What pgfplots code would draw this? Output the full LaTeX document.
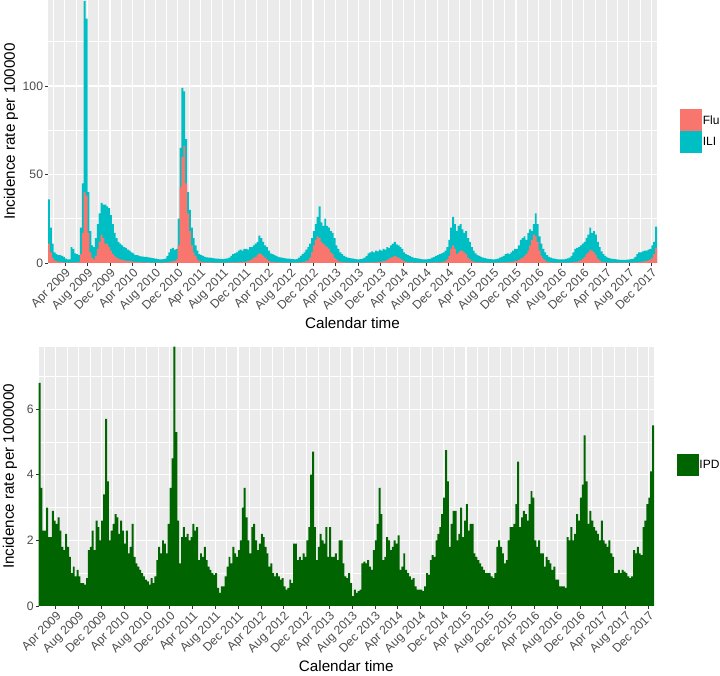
\documentclass[border=0pt]{standalone}
\usepackage{pgfplots}
\usepackage{pgfplotstable}
\usepackage{fontspec}
\setmainfont{Liberation Sans}
\pgfplotsset{compat=1.18}
\definecolor{flured}{HTML}{F8766D}
\definecolor{ilicyan}{HTML}{00BFC4}
\definecolor{ipdgreen}{HTML}{006400}
\definecolor{ggbg}{HTML}{EBEBEB}
\definecolor{ggtick}{HTML}{333333}
\definecolor{gglab}{HTML}{4D4D4D}

% three values per month (Jan 2009 = month 0); ili = total ILI height, flu = Flu height, ipd = IPD rate
\pgfplotstableread{
ili flu ipd
36 11 6.8
20 6 3.6
11 3 2.3
6 1.5 2.3
5 1 3.0
4.5 0.8 2.1
4.5 0.6 2.1
4 0.5 2.9
3.5 0.4 2.6
2.5 0.3 2.5
2 0.2 2.7
2 0.2 2.3
9 0.3 1.8
8 0.3 1.7
5.5 0.3 2.2
5 0.5 1.8
4.5 0.5 1.5
20 5 1.0
45 17 1.2
148 40 0.9
138 38 1.1
40 17 0.9
18 6 0.7
10 3 0.7
9 2 0.65
14 4 0.85
22 8 1.7
28 12 1.8
34 16 2.3
33 14 1.7
33 11 2.6
32 11 2.4
31 9 2.0
27 7 2.6
22 5 3.4
17 4 5.7
14 3 3.8
12 2.5 2.0
11 2 2.3
10 1.8 2.5
9 1.5 2.8
8.5 1.3 2.7
7.5 1.1 2.2
7 1 2.6
6 0.9 2.3
5.5 0.7 1.9
4.5 0.6 2.3
4.5 0.5 1.6
4 0.5 1.8
3.8 0.4 2.5
3.6 0.4 1.5
3.5 0.3 1.3
3.4 0.3 1.2
3.2 0.3 1.1
3 0.2 1.0
2.8 0.2 0.9
2.6 0.2 0.8
2.4 0.2 0.75
2.2 0.2 0.65
2 0.2 0.85
2 0.2 0.7
2.2 0.2 0.9
2.5 0.3 1.4
4 0.4 1.8
6 0.6 1.6
8 0.8 2.0
8.5 1 1.9
7.5 1.2 1.6
8 2 2.5
25 10 3.6
65 43 4.5
99 60 7.9
97 66 5.3
70 45 2.6
40 28 1.3
30 18 2.1
20 10 2.4
14 6 2.1
10 4 2.2
7 2 2.0
5 1.2 2.1
4.5 0.8 2.5
4 0.5 2.3
3.5 0.4 2.4
3.2 0.3 1.4
3 0.3 1.6
3 0.3 1.5
2.8 0.2 1.8
2.6 0.2 1.4
2.5 0.2 1.2
2.4 0.2 1.1
2.3 0.2 1.0
2.2 0.2 0.95
2.2 0.2 1.0
2.4 0.2 0.55
2.6 0.2 0.4
3 0.3 0.6
4 0.3 0.6
5 0.4 0.9
5.5 0.4 1.2
6 0.4 1.5
7 0.5 1.3
7.5 0.5 1.8
7 0.6 1.6
8 0.7 1.5
8 0.8 1.7
7.5 1 2.0
9 1.5 3.0
9 2 3.6
10 3 2.7
11 3.5 2.0
12 4.5 1.6
15.5 5.5 2.4
14 5 2.5
12 4 2.0
10 3 1.7
9 2 1.9
7 1.2 2.2
5.5 0.8 2.1
5 0.6 1.8
4.5 0.5 1.6
4 0.4 1.2
3.5 0.3 1.3
3.2 0.3 1.0
3 0.2 0.9
2.8 0.2 1.0
2.6 0.2 0.9
2.5 0.2 0.8
2.4 0.2 0.85
2.3 0.2 0.6
2.2 0.2 0.5
2 0.2 0.55
2.2 0.2 0.8
3 0.3 0.7
4 0.4 1.9
5 0.5 1.9
6 0.7 1.4
7.5 1 1.5
9 1.5 1.4
11 3 1.6
14 6 1.5
18 10 2.0
22 13 2.4
26 15 4.0
32 14 4.7
23 12 2.4
21 11 1.4
25 10 1.8
21 9 2.2
20 8 2.0
18 6 1.9
17 5 2.4
14 3 1.5
10 2 2.4
8 1.2 1.5
6 0.8 1.5
5 0.5 1.6
4 0.4 1.4
3.5 0.3 2.0
3 0.3 2.0
2.8 0.2 1.3
2.6 0.2 0.9
2.4 0.2 0.85
2.2 0.2 1.0
2 0.2 0.7
2 0.2 0.3
2.2 0.2 0.5
2.5 0.2 0.4
3 0.2 0.45
4 0.3 0.5
5.5 0.3 1.3
6 0.3 1.35
6.5 0.4 1.3
6 0.4 1.4
7 0.5 1.2
6.5 0.5 1.1
7.5 0.6 1.7
7 0.8 2.0
8 1 2.5
7.5 1.2 3.6
9 1.8 2.8
8.5 2.5 1.4
10 3 1.5
11 3.5 2.1
12 4 2.0
10.5 3.5 1.7
10 3 1.8
9 2.5 2.0
8 1.8 1.9
6 1 2.15
5 0.6 1.1
4.5 0.4 1.2
4 0.3 1.6
3.5 0.3 1.1
3 0.2 1.0
2.8 0.2 0.9
2.6 0.2 0.8
2.4 0.2 0.85
2.2 0.2 0.6
2.1 0.2 0.5
2 0.2 0.5
2 0.2 0.5
2.2 0.2 0.45
2.5 0.2 0.6
3 0.2 1.0
3.5 0.3 0.95
4 0.3 1.4
4.5 0.3 1.55
5 0.4 1.5
5.5 0.5 2.0
6 0.8 2.2
7 1.2 2.4
9 2 2.8
13 4 3.3
20 8 4.75
26 10 3.8
22 8 1.8
18 5 2.5
21 6 2.9
22 7 2.9
19 7 2.0
17 6 2.2
18 5 3.0
14 3 2.1
12 2 2.6
9 1.2 3.1
7 0.8 2.3
5.5 0.5 2.5
4.5 0.4 2.5
4 0.3 1.6
3.5 0.3 1.5
3 0.2 1.4
2.8 0.2 1.3
2.5 0.2 1.2
2.3 0.2 1.1
2.2 0.2 1.0
2 0.2 1.0
2 0.2 1.0
2.2 0.2 0.9
2.5 0.2 0.85
3 0.3 1.0
3.5 0.3 1.8
4 0.4 2.0
5 0.4 1.8
5.5 0.5 1.6
5 0.5 1.3
6 0.6 1.4
7 0.8 2.0
8 1 2.4
8 1.2 2.4
10 1.8 2.5
13 2.5 3.1
14 3 4.4
15 4 2.4
13 5 2.7
17 7 2.9
19 10 2.8
18 13 2.6
22 16 3.1
28 15 3.5
22 12 3.3
15 7 2.0
11 4 1.8
8 2.5 2.0
6 1.5 1.6
4.5 0.8 1.6
3.5 0.5 1.2
3 0.3 1.5
2.6 0.2 1.4
2.4 0.2 1.3
2.2 0.2 1.1
2 0.2 1.2
2 0.2 0.8
2 0.2 0.8
2.1 0.2 0.6
2.3 0.2 0.6
2.6 0.2 0.6
3 0.2 0.55
4 0.3 2.1
6 0.5 2.0
8 0.6 2.4
8.5 0.8 2.0
9 1 2.2
10 1.5 2.8
11 2.5 2.6
12 3.5 3.3
14 5 3.7
16 6 5.2
20 7.5 3.8
17 7 2.5
18 6 2.9
16 4.5 2.6
12 2.5 2.4
9 1.5 2.3
6.5 0.8 2.2
5 0.5 2.0
4 0.3 2.6
3.2 0.2 2.0
2.8 0.2 1.9
2.5 0.2 1.8
2.3 0.2 2.0
2.2 0.2 1.6
2 0.2 1.5
1.9 0.2 1.0
1.8 0.2 1.0
1.8 0.2 1.1
1.8 0.2 1.0
1.8 0.2 1.1
1.9 0.2 1.05
2 0.2 1.0
2.2 0.2 0.9
2.5 0.2 0.85
3.5 0.3 0.9
5 0.4 1.7
6 0.5 1.6
6 0.6 1.8
6.5 0.8 1.6
7 1 1.55
7 1.2 2.4
7.5 1.5 2.6
8 2 3.1
10 3 3.3
12 5 4.1
20.5 8.5 5.5
}\data

\pgfplotsset{
  ggstyle/.style={
    scale only axis,
    axis background/.style={fill=ggbg},
    axis line style={draw=none},
    xmin=0, xmax=108,
    xtick={3,7,...,107},
    xticklabels={Apr 2009,Aug 2009,Dec 2009,Apr 2010,Aug 2010,Dec 2010,Apr 2011,Aug 2011,Dec 2011,Apr 2012,Aug 2012,Dec 2012,Apr 2013,Aug 2013,Dec 2013,Apr 2014,Aug 2014,Dec 2014,Apr 2015,Aug 2015,Dec 2015,Apr 2016,Aug 2016,Dec 2016,Apr 2017,Aug 2017,Dec 2017},
    minor xtick={1,5,...,105},
    grid=both,
    major grid style={white, line width=1.1pt},
    minor grid style={white, line width=0.55pt},
    tick align=outside,
    major tick length=2.75pt,
    minor tick length=0pt,
    xtick pos=left, ytick pos=left,
    every tick/.style={ggtick, line width=0.55pt},
    /pgf/number format/assume math mode=true,
    xticklabel style={rotate=45, anchor=north east, font=\fontsize{12.2}{12.2}\selectfont, text=gglab, inner sep=1pt},
    yticklabel style={font=\fontsize{12.2}{12.2}\selectfont, text=gglab, inner sep=2pt},
    xlabel={Calendar time},
    legend cell align=left,
    legend image code/.code={\fill[##1, draw=none] (0pt,-11pt) rectangle (22pt,11pt);},
    legend style={draw=none, fill=none, inner sep=0pt, row sep=0pt,
      font=\fontsize{12}{12}\selectfont, nodes={inner sep=0.5pt},
      /tikz/every even column/.append style={column sep=1.5pt}},
  }
}

\begin{document}
\begin{tikzpicture}
\useasboundingbox (0,0) rectangle (720pt,676pt);
% top panel
\begin{axis}[ggstyle,
  at={(48pt,413pt)}, anchor=south west,
  width=609pt, height=263pt,
  ymin=0, ymax=148.6,
  ytick={0,50,100}, minor ytick={25,75,125},
  ylabel={Incidence rate per 100000},
  every axis y label/.style={at={(axis description cs:-0.0608,0.5)}, rotate=90, anchor=center, font=\fontsize{15.2}{15.2}\selectfont},
  every axis x label/.style={at={(axis description cs:0.5,-0.228)}, anchor=center, font=\fontsize{15.2}{15.2}\selectfont},
  legend style={at={(1.038,0.5)}, anchor=west},
]
\addlegendimage{fill=flured}
\addlegendentry{Flu}
\addlegendimage{fill=ilicyan}
\addlegendentry{ILI}
\addplot[ybar, bar width=0.345, bar shift=0pt, fill=ilicyan, draw=none, forget plot]
  table[x expr=\coordindex/3+0.1667, y=ili]{\data};
\addplot[ybar, bar width=0.345, bar shift=0pt, fill=flured, draw=none, forget plot]
  table[x expr=\coordindex/3+0.1667, y=flu]{\data};
\end{axis}
% bottom panel
\begin{axis}[ggstyle,
  at={(38.6pt,70pt)}, anchor=south west,
  width=615.4pt, height=259.3pt,
  ymin=0, ymax=7.9,
  ytick={0,2,4,6}, minor ytick={1,3,5,7},
  ylabel={Incidence rate per 1000000},
  every axis y label/.style={at={(axis description cs:-0.0465,0.5)}, rotate=90, anchor=center, font=\fontsize{15.2}{15.2}\selectfont},
  every axis x label/.style={at={(axis description cs:0.5,-0.230)}, anchor=center, font=\fontsize{15.2}{15.2}\selectfont},
  legend style={at={(1.037,0.544)}, anchor=west},
]
\addlegendimage{fill=ipdgreen}
\addlegendentry{IPD}
\addplot[ybar, bar width=0.345, bar shift=0pt, fill=ipdgreen, draw=none, forget plot]
  table[x expr=\coordindex/3+0.1667, y=ipd]{\data};
\end{axis}
\end{tikzpicture}
\end{document}
